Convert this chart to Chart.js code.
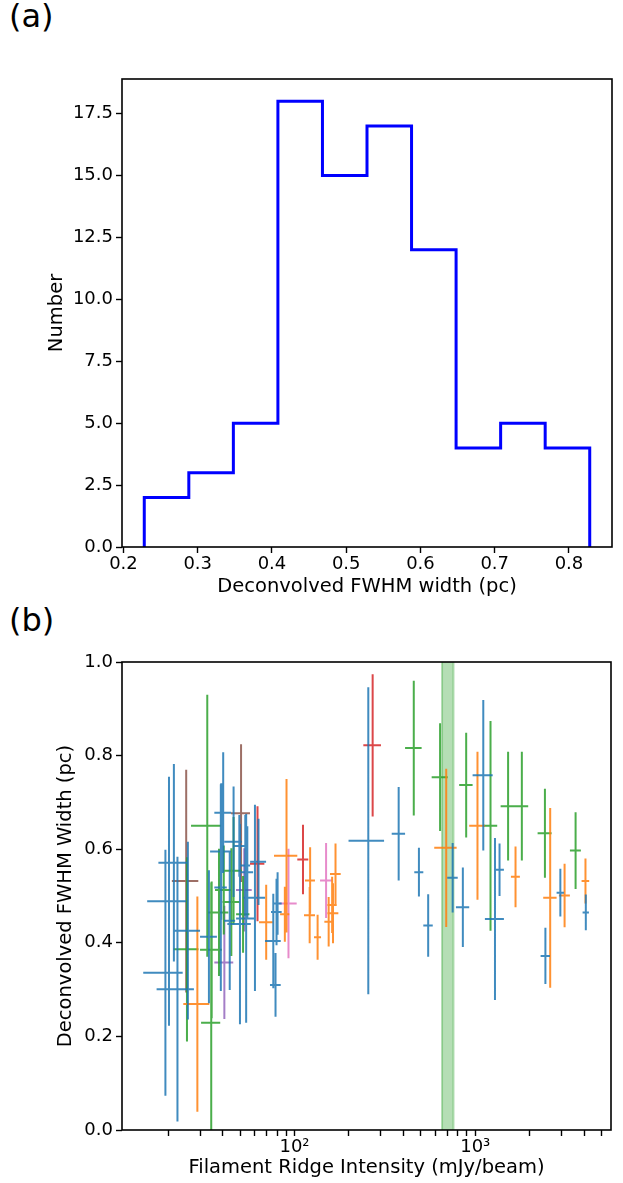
<!DOCTYPE html>
<html>
<head>
<meta charset="utf-8">
<script src="https://cdn.jsdelivr.net/npm/chart.js@4/dist/chart.umd.min.js"></script>
<style>
  body { margin: 0; background: #fff; width: 623px; height: 1183px; position: relative; overflow: hidden; font-family: "DejaVu Sans", sans-serif; }
  .tag { position: absolute; left: 9px; font-size: 32px; line-height: 32px; color: #000; }
  canvas { position: absolute; left: 0; }
</style>
</head>
<body>
<div class="tag" style="top:0px">(a)</div>
<div class="tag" style="top:604px">(b)</div>
<canvas id="histo" width="623" height="600" style="top:0px"></canvas>
<canvas id="scatter" width="623" height="583" style="top:600px"></canvas>
<script>
// ---- panel (a): histogram of widths
const binEdges = [0.228, 0.288, 0.348, 0.408, 0.468, 0.528, 0.588, 0.648, 0.708, 0.768, 0.828];
const binCounts = [2, 3, 5, 18, 15, 17, 12, 4, 5, 4];
const histXTicks = [0.2, 0.3, 0.4, 0.5, 0.6, 0.7, 0.8];
const histYTicks = [0, 2.5, 5, 7.5, 10, 12.5, 15, 17.5];

// ---- panel (b): width vs ridge intensity, one set per colour
const blueX = [21.5, 20.2, 19.3, 22.5, 25.7, 33.6, 40.3, 46.0, 49.5, 39.3, 53.4, 54.8, 39.1, 54.0, 49.9, 43.8, 60.4, 63.2, 76.3, 78.5, 79.5, 80.6, 256, 377, 488, 549, 750, 854, 1108, 1286, 1363, 2445, 2958, 4092];
const blueXErr = [3.85, 4.9, 4.75, 5.25, 4.3, 3.6, 4.3, 5.1, 3.7, 5.2, 3.4, 4.2, 3.1, 6.5, 7.4, 3.1, 8.3, 6.4, 7.6, 5.35, 5.4, 4.3, 57, 32, 28, 33, 50, 72, 141, 155, 78, 145, 138, 165];
const blueY = [0.571, 0.489, 0.336, 0.301, 0.426, 0.413, 0.678, 0.616, 0.607, 0.595, 0.565, 0.551, 0.518, 0.452, 0.440, 0.447, 0.496, 0.573, 0.404, 0.310, 0.466, 0.484, 0.618, 0.633, 0.551, 0.437, 0.539, 0.476, 0.758, 0.451, 0.556, 0.372, 0.507, 0.465];
const blueYErr = [0.211, 0.266, 0.263, 0.283, 0.190, 0.142, 0.129, 0.118, 0.066, 0.146, 0.108, 0.098, 0.221, 0.223, 0.214, 0.148, 0.199, 0.092, 0.101, 0.068, 0.071, 0.067, 0.328, 0.100, 0.052, 0.067, 0.074, 0.085, 0.161, 0.173, 0.056, 0.060, 0.051, 0.038];

const orangeX = [29.0, 69.7, 90.3, 88.4, 122, 121.3, 134.2, 154.5, 163.3, 168.6, 161.5, 691, 1029, 1671, 2599, 3122, 4074];
const orangeXErr = [4.76, 6.05, 13.3, 5.2, 7.75, 8.5, 6.0, 8.25, 11.5, 11.5, 9.7, 98, 103, 95, 221, 218, 198];
const orangeY = [0.269, 0.444, 0.586, 0.461, 0.533, 0.459, 0.412, 0.445, 0.463, 0.547, 0.481, 0.603, 0.650, 0.541, 0.496, 0.501, 0.532];
const orangeYErr = [0.230, 0.080, 0.164, 0.059, 0.071, 0.060, 0.048, 0.053, 0.064, 0.065, 0.060, 0.169, 0.158, 0.065, 0.192, 0.068, 0.048];

const greenX = [25.4, 32.9, 34.8, 34.6, 38.2, 44.7, 40.6, 51.9, 46.0, 457, 639, 891, 1215, 1520, 1811, 2430, 3592];
const greenXErr = [4.0, 6.15, 4.8, 4.2, 4.85, 4.8, 4.3, 4.4, 5.1, 48, 65, 76, 108, 138, 153, 216, 250];
const greenY = [0.386, 0.650, 0.385, 0.229, 0.465, 0.487, 0.513, 0.461, 0.554, 0.816, 0.754, 0.737, 0.650, 0.692, 0.692, 0.634, 0.597];
const greenYErr = [0.197, 0.280, 0.146, 0.300, 0.136, 0.115, 0.095, 0.082, 0.115, 0.144, 0.115, 0.112, 0.224, 0.116, 0.116, 0.095, 0.082];

const redX = [62.4, 111.4, 270.6];
const redXErr = [5.7, 7.8, 30.3];
const redY = [0.569, 0.578, 0.822];
const redYErr = [0.123, 0.074, 0.152];

const purpleX = [40.9, 52.7];
const purpleXErr = [4.9, 5.25];
const purpleY = [0.358, 0.513];
const purpleYErr = [0.121, 0.089];

const brownX = [25.15, 50.6];
const brownXErr = [4.2, 6.1];
const brownY = [0.532, 0.677];
const brownYErr = [0.238, 0.147];

const pinkX = [92.6, 149.5];
const pinkXErr = [10.2, 11.1];
const pinkY = [0.484, 0.533];
const pinkYErr = [0.117, 0.080];

// shaded intensity range
const bandLo = 655;
const bandHi = 758;

const logXTicks = [20, 30, 40, 50, 60, 70, 80, 90, 100, 200, 300, 400, 500, 600, 700, 800, 900, 1000, 2000, 3000, 4000, 5000];
const widthYTicks = [0, 0.2, 0.4, 0.6, 0.8, 1.0];

Chart.defaults.font.family = '"DejaVu Sans", sans-serif';
Chart.defaults.color = '#000';

// full frame round the plot area, like matplotlib spines
const framePlugin = {
  id: 'frame',
  afterDraw(chart) {
    const { ctx, chartArea: a } = chart;
    ctx.save();
    ctx.strokeStyle = '#000';
    ctx.lineWidth = 1.6;
    ctx.strokeRect(a.left, a.top, a.right - a.left, a.bottom - a.top);
    ctx.restore();
  }
};

const tickFont = { size: 18 };
const titleFont = { size: 19.5 };
const gridOpts = { drawOnChartArea: false, drawTicks: true, tickLength: 6, tickColor: '#000', tickWidth: 1.4 };

// histogram outline built from edges and counts
const stepPts = [{ x: binEdges[0], y: 0 }];
binCounts.forEach((c, i) => {
  stepPts.push({ x: binEdges[i], y: c });
  stepPts.push({ x: binEdges[i + 1], y: c });
});
stepPts.push({ x: binEdges[binEdges.length - 1], y: 0 });

new Chart(document.getElementById('histo'), {
  type: 'scatter',
  data: {
    datasets: [{
      data: stepPts,
      showLine: true,
      borderColor: '#0000ff',
      borderWidth: 3,
      pointRadius: 0,
      pointHoverRadius: 0
    }]
  },
  plugins: [framePlugin],
  options: {
    responsive: false,
    animation: false,
    layout: { padding: { top: 79, right: 11, left: 0, bottom: 0 } },
    plugins: { legend: { display: false }, tooltip: { enabled: false } },
    scales: {
      x: {
        type: 'linear', min: 0.198, max: 0.858,
        afterFit: (s) => { s.height = 53; },
        afterBuildTicks: (s) => { s.ticks = histXTicks.map(v => ({ value: v })); },
        ticks: { font: tickFont, padding: 1, maxRotation: 0, autoSkip: false, callback: v => v.toFixed(1) },
        grid: gridOpts,
        border: { display: false },
        title: { display: true, text: 'Deconvolved FWHM width (pc)', font: titleFont, padding: { top: 0, bottom: 1 } }
      },
      y: {
        type: 'linear', min: 0, max: 18.9,
        afterFit: (s) => { s.width = 122; },
        afterBuildTicks: (s) => { s.ticks = histYTicks.map(v => ({ value: v })); },
        ticks: { font: tickFont, padding: 3, autoSkip: false, callback: v => v.toFixed(1) },
        grid: gridOpts,
        border: { display: false },
        title: { display: true, text: 'Number', font: titleFont, padding: { top: 45, bottom: 0 } }
      }
    }
  }
});

// error bars: a horizontal and a vertical segment per point, gaps between
function errorBars(xs, xe, ys, ye) {
  const pts = [];
  for (let i = 0; i < xs.length; i++) {
    pts.push({ x: xs[i] - xe[i], y: ys[i] }, { x: xs[i] + xe[i], y: ys[i] }, { x: xs[i], y: null });
    pts.push({ x: xs[i], y: ys[i] - ye[i] }, { x: xs[i], y: ys[i] + ye[i] }, { x: xs[i], y: null });
  }
  return pts;
}

function barSet(xs, xe, ys, ye, color) {
  return {
    data: errorBars(xs, xe, ys, ye),
    showLine: true,
    spanGaps: false,
    borderColor: color,
    borderWidth: 2,
    pointRadius: 0,
    pointHoverRadius: 0
  };
}

new Chart(document.getElementById('scatter'), {
  type: 'scatter',
  data: {
    datasets: [
      barSet(blueX, blueXErr, blueY, blueYErr, 'rgba(31,119,180,0.85)'),
      barSet(orangeX, orangeXErr, orangeY, orangeYErr, 'rgba(255,127,14,0.85)'),
      barSet(greenX, greenXErr, greenY, greenYErr, 'rgba(44,160,44,0.85)'),
      barSet(redX, redXErr, redY, redYErr, 'rgba(214,39,40,0.85)'),
      barSet(purpleX, purpleXErr, purpleY, purpleYErr, 'rgba(148,103,189,0.85)'),
      barSet(brownX, brownXErr, brownY, brownYErr, 'rgba(140,86,75,0.85)'),
      barSet(pinkX, pinkXErr, pinkY, pinkYErr, 'rgba(227,119,194,0.85)'),
      {
        data: [{ x: bandLo, y: 1 }, { x: bandHi, y: 1 }],
        showLine: true,
        fill: 'origin',
        backgroundColor: 'rgba(44,160,44,0.35)',
        borderWidth: 0,
        pointRadius: 0,
        order: 2
      },
      {
        data: [{ x: bandLo, y: 0 }, { x: bandLo, y: 1 }, { x: bandLo, y: null }, { x: bandHi, y: 0 }, { x: bandHi, y: 1 }],
        showLine: true,
        borderColor: 'rgba(44,160,44,0.35)',
        borderWidth: 2,
        pointRadius: 0,
        order: 1
      }
    ]
  },
  plugins: [framePlugin],
  options: {
    responsive: false,
    animation: false,
    layout: { padding: { top: 62, right: 12, left: 0, bottom: 0 } },
    plugins: { legend: { display: false }, tooltip: { enabled: false } },
    scales: {
      x: {
        type: 'logarithmic', min: 11.1, max: 5640,
        afterFit: (s) => { s.height = 53; },
        afterBuildTicks: (s) => { s.ticks = logXTicks.map(v => ({ value: v })); },
        ticks: { font: tickFont, padding: 1, maxRotation: 0, autoSkip: false,
                 callback: v => (v === 100 ? '10²' : v === 1000 ? '10³' : '') },
        grid: gridOpts,
        border: { display: false },
        title: { display: true, text: 'Filament Ridge Intensity (mJy/beam)', font: titleFont, padding: { top: 0, bottom: 3 } }
      },
      y: {
        type: 'linear', min: 0, max: 1,
        afterFit: (s) => { s.width = 122; },
        afterBuildTicks: (s) => { s.ticks = widthYTicks.map(v => ({ value: v })); },
        ticks: { font: tickFont, padding: 3, autoSkip: false, callback: v => v.toFixed(1) },
        grid: gridOpts,
        border: { display: false },
        title: { display: true, text: 'Deconvolved FWHM Width (pc)', font: titleFont, padding: { top: 54, bottom: 0 } }
      }
    }
  }
});
</script>
</body>
</html>
